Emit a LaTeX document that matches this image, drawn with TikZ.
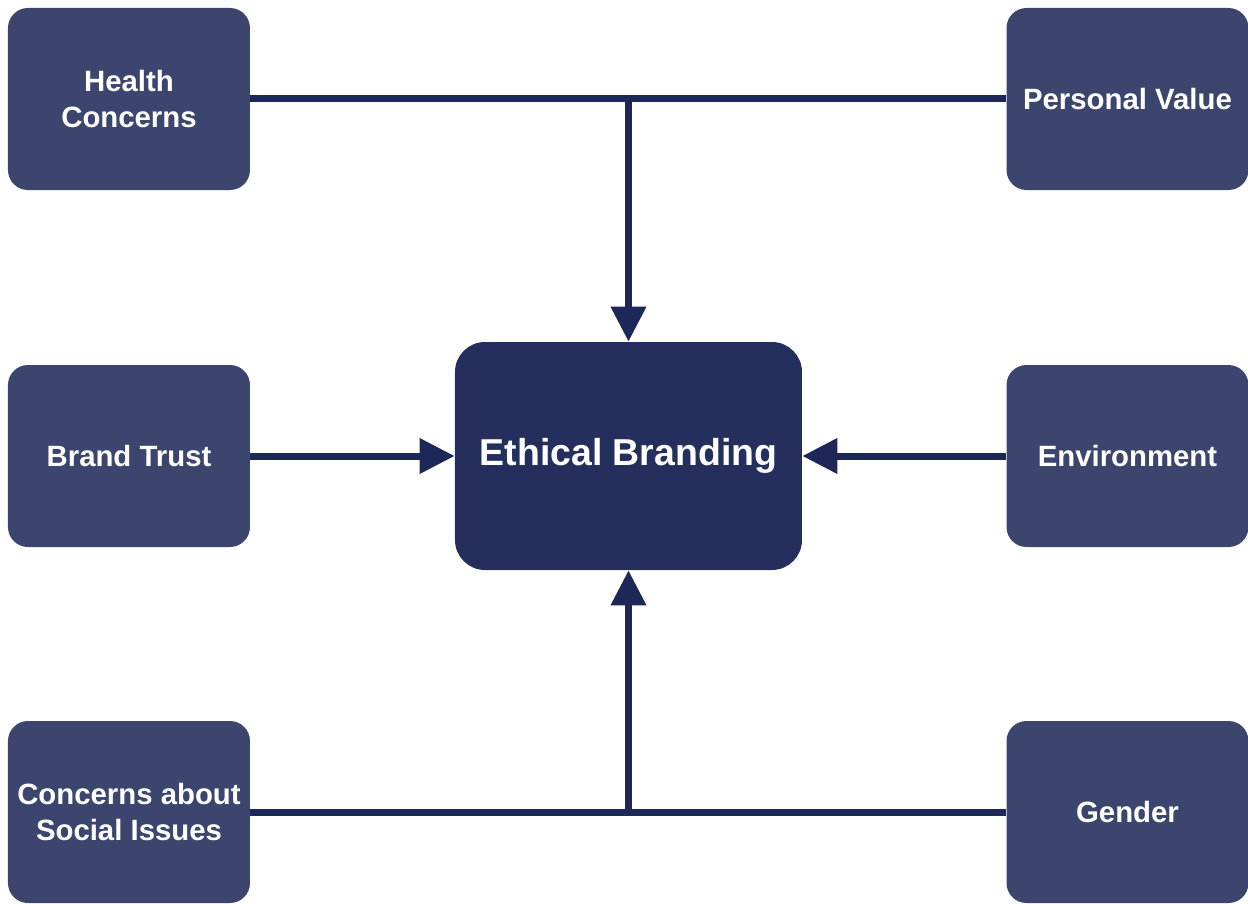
\documentclass[tikz,border=0pt]{standalone}
\usepackage{fontspec}
\setmainfont{Liberation Sans}
\usetikzlibrary{arrows.meta}
\definecolor{boxblue}{HTML}{3C456E}
\definecolor{coreblue}{HTML}{252F5E}
\definecolor{lineblue}{HTML}{1D2858}
\tikzstyle{factor} = [rectangle, rounded corners=0.4cm, text centered, fill=boxblue, text=white, minimum width=4.84cm, minimum height=3.64cm, align=center, inner sep=1pt, font=\bfseries\fontsize{16.7}{20}\selectfont]
\tikzstyle{core} = [rectangle, rounded corners=0.6cm, text centered, fill=coreblue, text=white, minimum width=6.94cm, minimum height=4.56cm, font=\bfseries\fontsize{21.3}{25}\selectfont]
\tikzstyle{line} = [draw=lineblue, line width=0.14cm]
\tikzstyle{arrow} = [line, -{Triangle[width=0.68cm, length=0.7cm]}]

\begin{document}
\begin{tikzpicture}
  \useasboundingbox (-12.57,-8.94) rectangle (12.39,9.12);
  \node (branding) [core] {Ethical Branding};
  \node (trust) [factor, left of=branding, node distance=9.99cm] {Brand Trust};
  \node (environment) [factor, right of=branding, node distance=9.98cm] {Environment};
  \node (health) [factor, above of=trust, node distance=7.14cm] {Health\\Concerns};
  \node (personal) [factor, above of=environment, node distance=7.14cm] {Personal Value};
  \node (social) [factor, below of=trust, node distance=7.12cm] {Concerns about\\Social Issues};
  \node (gender) [factor, below of=environment, node distance=7.12cm] {Gender};

  \coordinate (topjoin) at (branding |- health.east);
  \coordinate (bottomjoin) at (branding |- social.east);

  \draw [line] (health.east) -- (personal.west);
  \draw [arrow] (topjoin) -- (branding.north);

  \draw [line] (social.east) -- (gender.west);
  \draw [arrow] (bottomjoin) -- (branding.south);

  \draw [arrow] (trust.east) -- (branding.west);
  \draw [arrow] (environment.west) -- (branding.east);
\end{tikzpicture}
\end{document}
